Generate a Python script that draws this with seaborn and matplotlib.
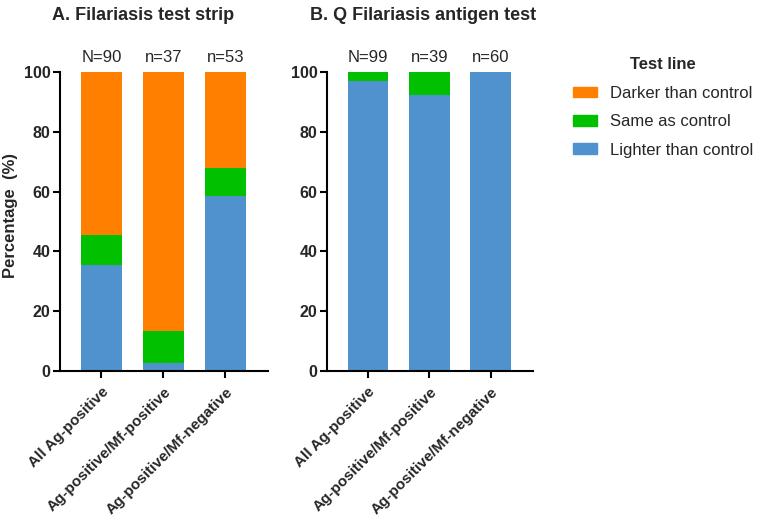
import pandas as pd
import matplotlib.pyplot as plt
import seaborn as sns
from matplotlib.patches import Patch

# data (percentages)
groups = ['All Ag-positive', 'Ag-positive/Mf-positive', 'Ag-positive/Mf-negative']
strip_lighter = [35.6, 2.7, 58.5]
strip_same = [10.0, 10.8, 9.4]
strip_darker = [54.4, 86.5, 32.1]
strip_n = ['N=90', 'n=37', 'n=53']

antigen_lighter = [97.0, 92.3, 100.0]
antigen_same = [3.0, 7.7, 0.0]
antigen_darker = [0.0, 0.0, 0.0]
antigen_n = ['N=99', 'n=39', 'n=60']

colors = {'Darker than control': '#FF8000',
          'Same as control': '#00C000',
          'Lighter than control': '#4F92CD'}

sns.set_theme(style="ticks")
plt.rcParams['font.family'] = ['Liberation Sans', 'DejaVu Sans']

fig = plt.figure(figsize=(7.6, 5.26), dpi=100)
axA = fig.add_axes([60/760, 155/526, 208/760, 299/526])
axB = fig.add_axes([327/760, 155/526, 206/760, 299/526])


def stacked(ax, lighter, same, darker, nlab):
    df = pd.DataFrame({'group': groups, 'lighter': lighter, 'same': same, 'darker': darker})
    df['top_same'] = df['lighter'] + df['same']
    df['top_dark'] = df['top_same'] + df['darker']
    # draw the cumulative layers from back to front
    sns.barplot(data=df, x='group', y='top_dark', color=colors['Darker than control'],
                width=0.66, saturation=1, ax=ax)
    sns.barplot(data=df, x='group', y='top_same', color=colors['Same as control'],
                width=0.66, saturation=1, ax=ax)
    sns.barplot(data=df, x='group', y='lighter', color=colors['Lighter than control'],
                width=0.66, saturation=1, ax=ax)
    for p in ax.patches:
        p.set_edgecolor('none')
    for i, t in enumerate(nlab):
        ax.text(i, 105, t, ha='center', va='center', fontsize=12, clip_on=False)
    ax.set_ylim(0, 100)
    ax.set_xlim(-0.67, 2.69)
    ax.set_yticks([0, 20, 40, 60, 80, 100])
    ax.set_xlabel('')
    ax.set_ylabel('')
    sns.despine(ax=ax)
    for s in ['left', 'bottom']:
        ax.spines[s].set_linewidth(1.5)
        ax.spines[s].set_color('black')
    ax.tick_params(axis='y', width=1.5, length=5, color='black', labelsize=11.5, pad=2)
    ax.tick_params(axis='x', width=1.5, length=5, color='black', labelsize=11, pad=5)
    ax.set_xticks(range(3))
    ax.set_xticklabels(groups, rotation=45, ha='right', rotation_mode='anchor', fontweight='bold')
    for lab in ax.get_yticklabels():
        lab.set_fontweight('bold')


stacked(axA, strip_lighter, strip_same, strip_darker, strip_n)
stacked(axB, antigen_lighter, antigen_same, antigen_darker, antigen_n)

axA.set_ylabel('Percentage  (%)', fontsize=12, fontweight='bold', labelpad=6)
axA.yaxis.set_label_coords(-0.2, 0.52)

fig.text(143/760, 1 - 16/526, 'A. Filariasis test strip', ha='center', va='center',
         fontsize=13, fontweight='bold')
fig.text(423/760, 1 - 16/526, 'B. Q Filariasis antigen test', ha='center', va='center',
         fontsize=13, fontweight='bold')

handles = [Patch(color=c, label=k) for k, c in colors.items()]
leg = fig.legend(handles=handles, title='Test line', loc='upper left',
                 bbox_to_anchor=(558/760, 1 - 42/526), frameon=False, fontsize=12,
                 handlelength=1.45, handleheight=0.6, handletextpad=0.8, labelspacing=0.8,
                 title_fontproperties={'weight': 'bold', 'size': 12})
leg._legend_box.sep = 10

fig.savefig('out.png', dpi=100)
